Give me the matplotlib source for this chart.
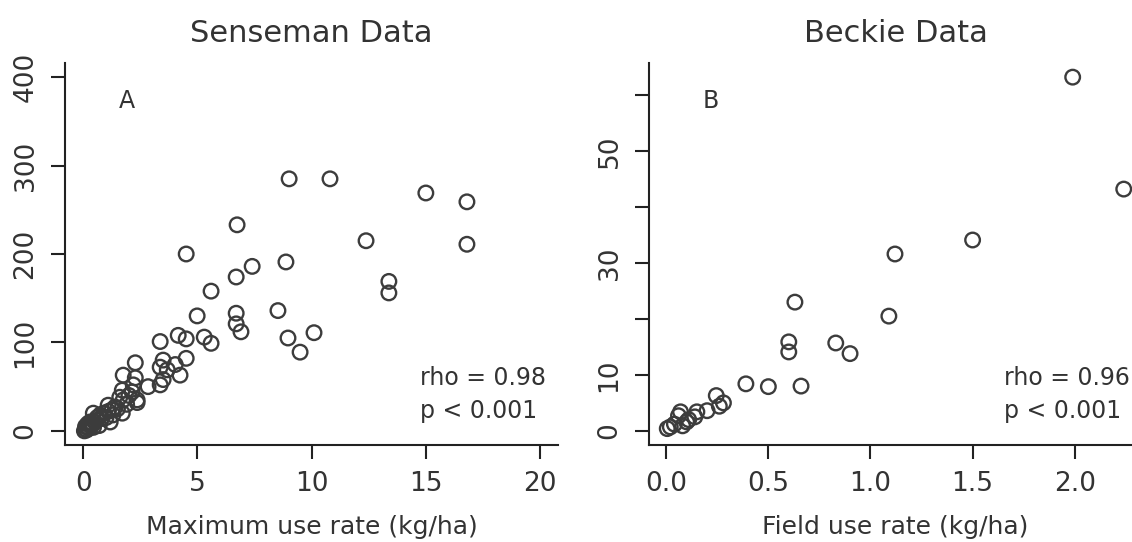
import matplotlib
matplotlib.use("Agg")
import matplotlib.pyplot as plt
import numpy as np

# Senseman data (panel A): maximum use rate (kg/ha) vs y value
senseman_x = [9.02, 10.81, 15.01, 16.81, 16.81, 6.74, 12.39, 4.51, 7.40, 8.88,
              6.70, 13.39, 13.39, 5.60, 4.99, 6.70, 6.70, 6.91, 8.53, 10.11,
              8.97, 9.50, 4.51, 5.30, 5.60, 4.51,
              3.37, 4.16, 2.28, 3.50, 3.37, 3.68, 4.03, 4.24, 1.75, 2.28,
              2.19, 2.84, 3.37, 3.50, 1.71, 2.14, 2.36, 1.75, 2.36, 1.09,
              1.40, 1.27, 1.71, 0.44, 1.18, 0.74, 0.61,
              0.05, 0.10, 0.15, 0.20, 0.25, 0.30, 0.35, 0.10, 0.40, 0.50,
              0.30, 0.20, 0.60, 0.45, 0.80, 1.00, 0.90, 1.30, 1.50, 1.90,
              2.00, 1.60, 0.70, 1.10]
senseman_y = [285, 285, 269, 259, 211, 233, 215, 200, 186, 191,
              174, 169, 156, 158, 130, 133, 121, 112, 136, 111,
              105, 89, 104, 106, 99, 82,
              101, 108, 77, 80, 72, 69, 75, 63, 63, 60,
              52, 50, 52, 58, 46, 44, 35, 35, 32, 29,
              27, 24, 20, 20, 10, 18, 15,
              0, 2, 1, 4, 3, 6, 5, 5, 8, 10,
              10, 8, 12, 4, 14, 15, 20, 18, 25, 30,
              40, 38, 6, 22]

# Beckie data (panel B): field use rate (kg/ha) vs y value
beckie_x = [1.99, 2.24, 1.50, 1.12, 0.63, 1.09, 0.60, 0.60, 0.83, 0.90,
            0.39, 0.50, 0.66, 0.245, 0.28, 0.26, 0.20, 0.15, 0.14, 0.07,
            0.06, 0.10, 0.08, 0.04, 0.005, 0.02, 0.11]
beckie_y = [63.2, 43.2, 34.1, 31.6, 23.0, 20.5, 15.9, 14.1, 15.7, 13.8,
            8.4, 7.9, 8.0, 6.3, 5.0, 4.4, 3.6, 3.4, 2.5, 3.4,
            2.7, 1.6, 0.9, 1.2, 0.4, 0.7, 2.0]

a_xticks = [0, 5, 10, 15, 20]
a_yticks = [0, 100, 200, 300, 400]
b_xticks = [0.0, 0.5, 1.0, 1.5, 2.0]
b_xlabels = ["0.0", "0.5", "1.0", "1.5", "2.0"]
b_yticks = [0, 10, 20, 30, 40, 50, 60]
b_ylabels = ["0", "10", "", "30", "", "50", ""]

TXT = "#333333"
W, H = 1132, 542


def rlim(lo, hi):
    # R style 4% padding
    r = hi - lo
    return lo - 0.04 * r, hi + 0.04 * r


def style(ax):
    for s in ["top", "right"]:
        ax.spines[s].set_visible(False)
    for s in ["left", "bottom"]:
        ax.spines[s].set_linewidth(1.5)
        ax.spines[s].set_color("#222222")
    ax.tick_params(length=10, width=1.5, color="#222222", labelsize=19,
                   labelcolor=TXT, pad=9)
    for lab in ax.get_yticklabels():
        lab.set_rotation(90)
        lab.set_va("center")


fig = plt.figure(figsize=(W / 100, H / 100), dpi=100)
axA = fig.add_axes([65 / W, (H - 445) / H, 493 / W, 382 / H])
axB = fig.add_axes([649 / W, (H - 445) / H, 493 / W, 382 / H])

mk = dict(marker="o", s=110, facecolors="none", edgecolors="#3c3c3c", linewidths=1.7)

# panel A
axA.scatter(senseman_x, senseman_y, **mk)
axA.set_xlim(*rlim(0, 20))
axA.set_ylim(*rlim(0, 400))
axA.set_xticks(a_xticks)
axA.set_yticks(a_yticks)
style(axA)
axA.set_xlabel("Maximum use rate (kg/ha)", fontsize=18, color=TXT, labelpad=13)
axA.set_title("Senseman Data", fontsize=22, color=TXT, pad=15)
axA.text(0.125, 0.9, "A", transform=axA.transAxes, fontsize=17, color=TXT,
         ha="center", va="center")
axA.text(0.72, 0.175, "rho = 0.98", transform=axA.transAxes, fontsize=17,
         color=TXT, ha="left", va="center")
axA.text(0.72, 0.09, "p < 0.001", transform=axA.transAxes, fontsize=17,
         color=TXT, ha="left", va="center")

# panel B
axB.scatter(beckie_x, beckie_y, **mk)
axB.set_xlim(*rlim(min(beckie_x), max(beckie_x)))
axB.set_ylim(*rlim(0, max(beckie_y)))
axB.set_xticks(b_xticks)
axB.set_xticklabels(b_xlabels)
axB.set_yticks(b_yticks)
axB.set_yticklabels(b_ylabels)
style(axB)
axB.set_xlabel("Field use rate (kg/ha)", fontsize=18, color=TXT, labelpad=13)
axB.set_title("Beckie Data", fontsize=22, color=TXT, pad=15)
axB.text(0.125, 0.9, "B", transform=axB.transAxes, fontsize=17, color=TXT,
         ha="center", va="center")
axB.text(0.72, 0.175, "rho = 0.96", transform=axB.transAxes, fontsize=17,
         color=TXT, ha="left", va="center")
axB.text(0.72, 0.09, "p < 0.001", transform=axB.transAxes, fontsize=17,
         color=TXT, ha="left", va="center")

fig.savefig("out.png", dpi=100)
